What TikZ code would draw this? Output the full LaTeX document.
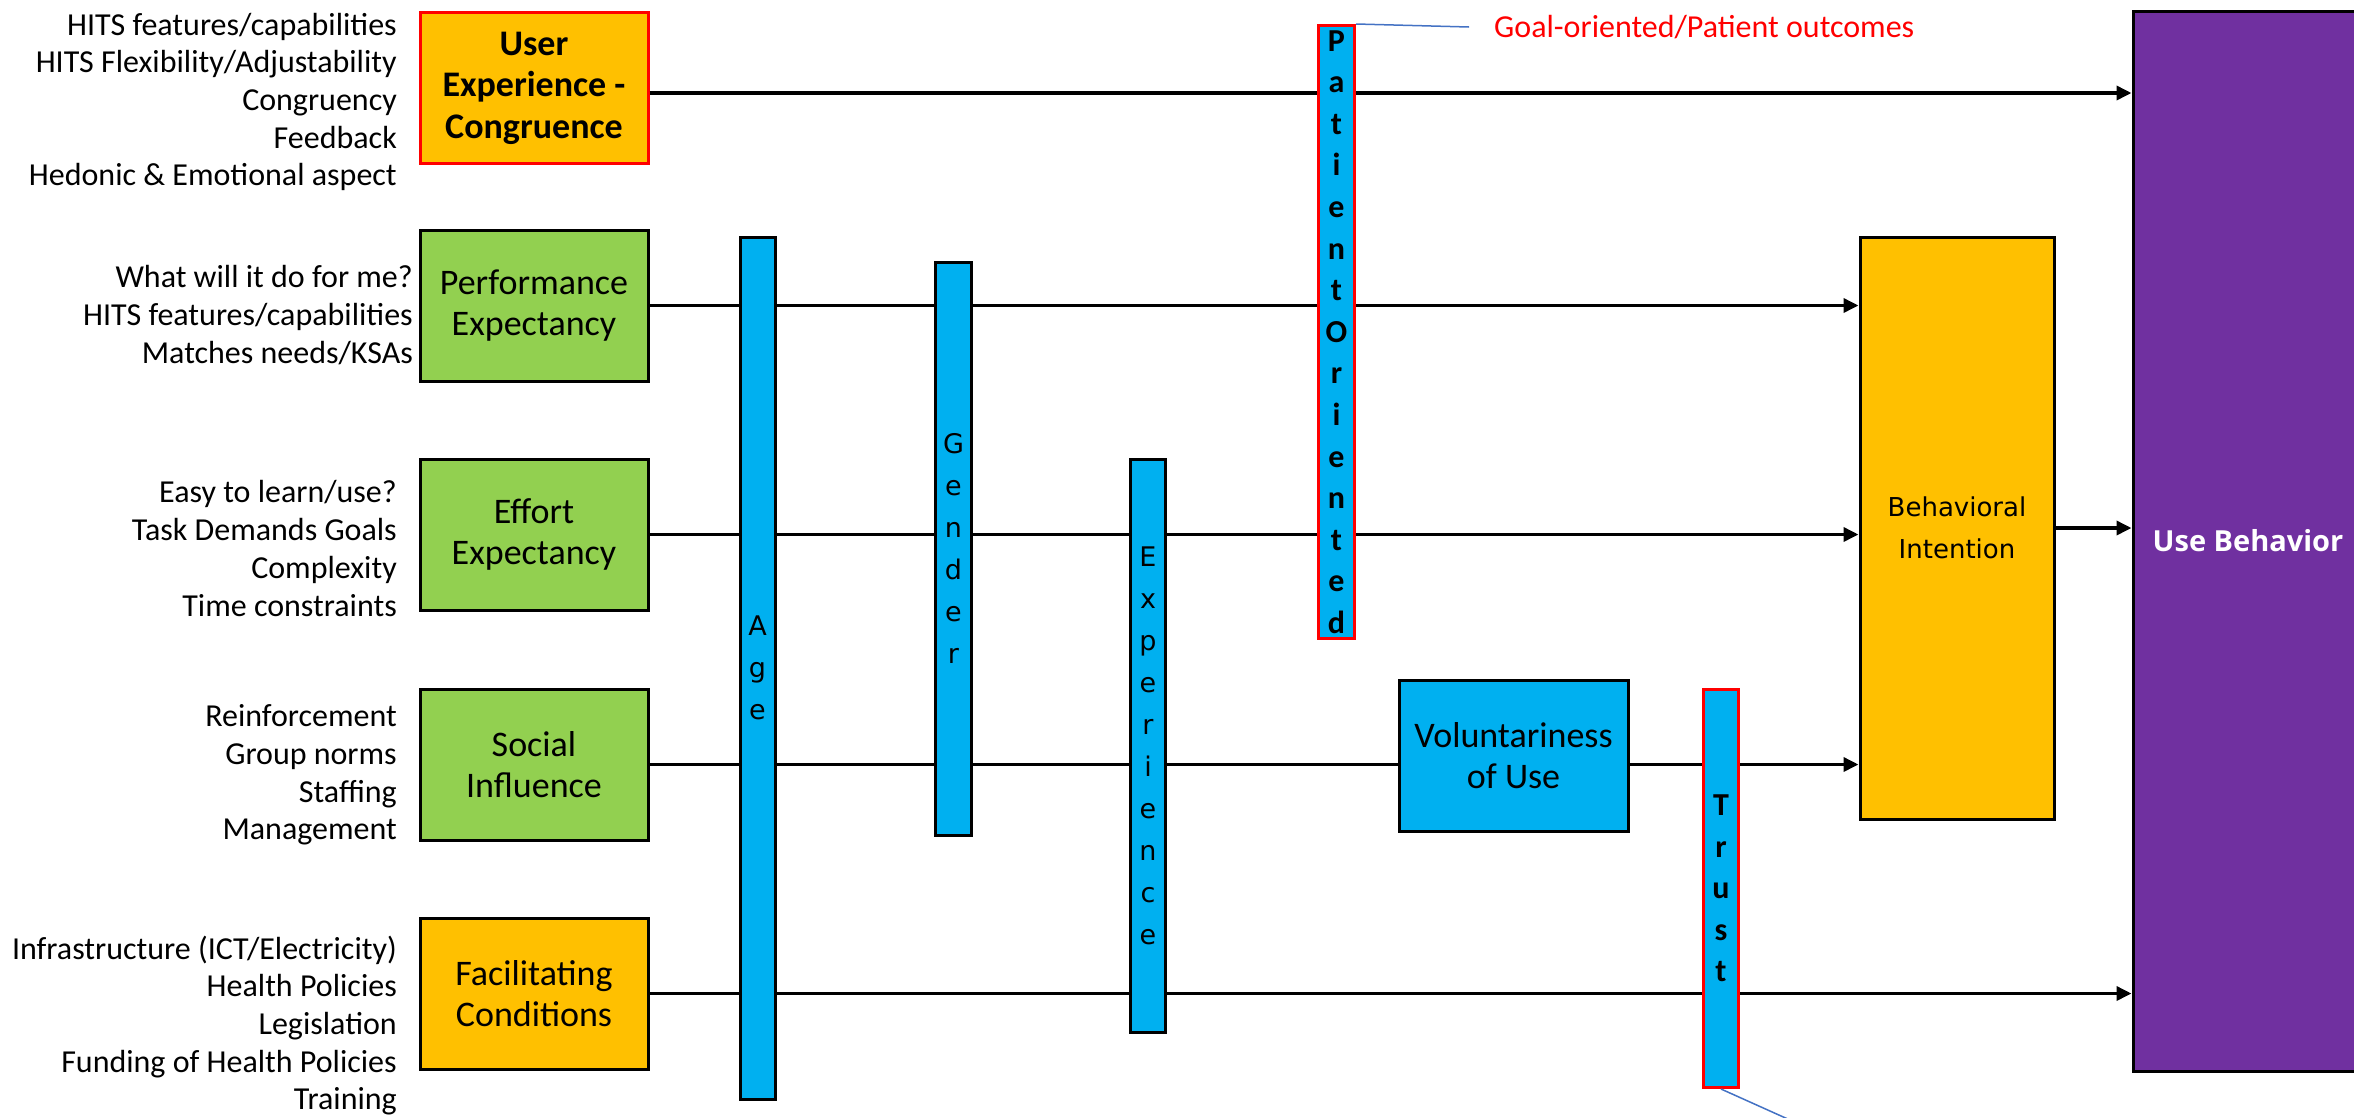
\documentclass[tikz,border=0pt]{standalone}
\usepackage{fontspec}
\usetikzlibrary{arrows.meta}
\newfontfamily\carl{Carlito}
\newfontfamily\dvs{DejaVu Sans}
\newfontfamily\osans{Open Sans}
\definecolor{cOrange}{HTML}{FFC000}
\definecolor{cGreen}{HTML}{92D050}
\definecolor{cBlue}{HTML}{00B0F0}
\definecolor{cPurple}{HTML}{7030A0}
\definecolor{cRed}{HTML}{FF0000}
\definecolor{cCall}{HTML}{4472C4}
\begin{document}
\begin{tikzpicture}[x=1pt,y=-1pt,
  box/.style={draw=black, line width=3pt, minimum width=228pt, minimum height=151pt,
    align=center, inner sep=0pt, font={\carl\fontsize{36}{41}\selectfont}},
  bar/.style={draw=black, line width=3pt, fill=cBlue, inner sep=0pt, align=center,
    font={\dvs\fontsize{27}{42}\selectfont}},
  rbar/.style={draw=cRed, line width=3pt, fill=cBlue, inner sep=0pt, align=center,
    font={\carl\bfseries\fontsize{32}{41.6}\selectfont}},
  lst/.style={anchor=east, align=right, inner sep=0pt, font={\carl\fontsize{32}{37.7}\selectfont}},
  conn/.style={line width=3.5pt, draw=black},
  arr/.style={conn, -{Triangle[length=15pt, width=14pt]}},
  callout/.style={draw=cCall, line width=1.5pt}
]
\path[use as bounding box, clip] (0,0) rectangle (2354,1117);
\fill[white] (0,0) rectangle (2354,1117);

% main boxes
\node[box, fill=cOrange, draw=cRed, font={\carl\bfseries\fontsize{36}{41.5}\selectfont}] (ux) at (534,88) {User\\Experience -\\Congruence};
\node[box, fill=cGreen] (pe) at (534,305.5) {Performance\\Expectancy};
\node[box, fill=cGreen] (ee) at (534,534.5) {Effort\\Expectancy};
\node[box, fill=cGreen] (si) at (534,764.5) {Social\\Influence};
\node[box, fill=cOrange] (fc) at (534,993.5) {Facilitating\\Conditions};
\node[box, fill=cBlue, minimum width=229pt] (vol) at (1513.5,755.5) {Voluntariness\\of Use};
\node[box, fill=cOrange, minimum width=194pt, minimum height=582pt,
  font={\dvs\fontsize{26}{42}\selectfont}] (bi) at (1957,528) {Behavioral\\Intention};
\node[box, fill=cPurple, minimum width=230pt, minimum height=1060pt, text=white,
  font={\osans\bfseries\fontsize{29}{35}\selectfont}] (ub) at (2248,541) {Use Behavior};

% left lists
\node[lst] (uxl) at (397,102) {HITS features/capabilities\\HITS Flexibility/Adjustability\\Congruency\\Feedback\\Hedonic \& Emotional aspect};
\node[lst] (pel) at (413,315) {What will it do for me?\\HITS features/capabilities\\Matches needs/KSAs};
\node[lst] (eel) at (397,548.5) {Easy to learn/use?\\Task Demands Goals\\Complexity\\Time constraints};
\node[lst] (sil) at (397,775) {Reinforcement\\Group norms\\Staffing\\Management};
\node[lst] (fcl) at (397,1025.5) {Infrastructure (ICT/Electricity)\\Health Policies\\Legislation\\Funding of Health Policies\\Training};

% connectors
\draw[arr] ([yshift=-5pt]ux.east) -- ([yshift=-5pt]ux.east -| ub.west);
\draw[arr] (pe.east) -- (pe.east -| bi.west);
\draw[arr] (ee.east) -- (ee.east -| bi.west);
\draw[conn] (si.east) -- (si.east -| vol.west);
\draw[arr] (si.east -| vol.east) -- (si.east -| bi.west);
\draw[arr] (fc.east) -- (fc.east -| ub.west);
\draw[arr] (bi.east) -- (bi.east -| ub.west);

% moderator bars
\node[bar, minimum width=35pt, minimum height=862pt] (age) at (757.5,668) {A\\g\\e};
\node[bar, minimum width=36pt, minimum height=573pt] (gen) at (953.5,548.5) {G\\e\\n\\d\\e\\r};
\node[bar, minimum width=35pt, minimum height=573pt] (exp) at (1148,745.5) {E\\x\\p\\e\\r\\i\\e\\n\\c\\e};
\node[rbar, minimum width=36pt, minimum height=613pt] (pat) at (1336.5,332) {P\\a\\t\\i\\e\\n\\t\\O\\r\\i\\e\\n\\t\\e\\d};
\node[rbar, minimum width=35pt, minimum height=398pt] (trust) at (1721,888.5) {T\\r\\u\\s\\t};

% callouts
\node[anchor=west, inner sep=0pt, text=cRed, font={\carl\fontsize{32}{38}\selectfont}] (goal) at (1494,27) {Goal-oriented/Patient outcomes};
\coordinate (gend) at (1469,27);
\draw[callout] (pat.north east) -- (gend);
\coordinate (tend) at (1790,1120);
\draw[callout] (trust.south) -- (tend);
\end{tikzpicture}
\end{document}
